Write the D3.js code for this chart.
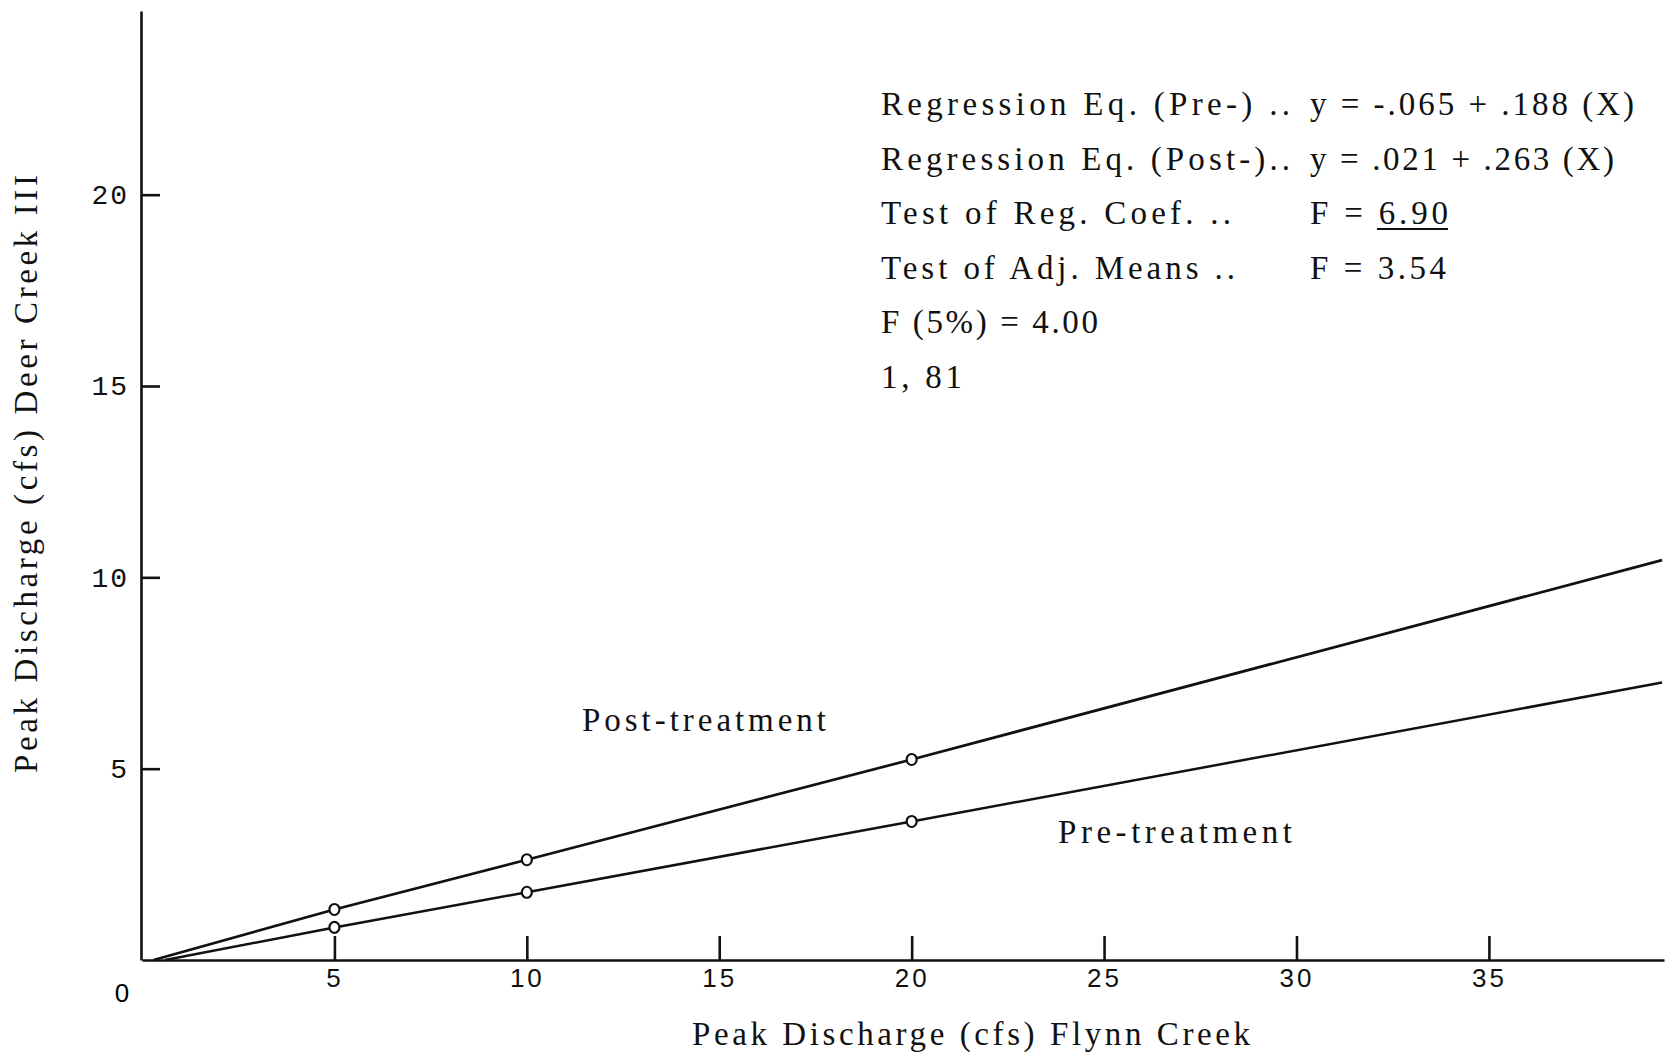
<!DOCTYPE html>
<html>
<head>
<meta charset="utf-8">
<script src="https://cdn.jsdelivr.net/npm/d3@7"></script>
<style>
  body { margin: 0; background: #fff; }
  svg { display: block; }
  .axis path, .axis line { stroke: #111; stroke-width: 2.6; }
  .axis text { font-family: "Liberation Mono", monospace; font-size: 28px; fill: #111; }
  .xaxis text { font-family: "Liberation Sans", sans-serif; font-size: 26px; }
  .note { font-family: "Liberation Serif", serif; font-size: 33px; fill: #111; }
</style>
</head>
<body>
<script>
// ---------------- data ----------------
const xTicks = [5, 10, 15, 20, 25, 30, 35];
const yTicks = [5, 10, 15, 20];

// regression lines (start at axis, through the plotted points, to the right edge)
const postX = [0.3, 5, 10, 20, 39.5];
const postY = [0, 1.32, 2.62, 5.24, 10.45];
const preX  = [0.6, 5, 10, 20, 39.5];
const preY  = [0, 0.85, 1.77, 3.62, 7.25];

// plotted points (open circles)
const pointX = [5, 10, 20];
const postPts = [1.32, 2.62, 5.24];
const prePts  = [0.85, 1.77, 3.62];

const notesLeft  = ["Regression Eq. (Pre-) ..", "Regression Eq. (Post-)..", "Test of Reg. Coef. ..",
                    "Test of Adj. Means ..", "F (5%) = 4.00", "1, 81"];
const notesRight = ["y = -.065 + .188 (X)", "y = .021 + .263 (X)", "F = 6.90", "F = 3.54", "", ""];

// ---------------- layout ----------------
const W = 1667, H = 1057;
const svg = d3.select("body").append("svg").attr("width", W).attr("height", H);

const x = d3.scaleLinear().domain([0, 39.55]).range([142, 1664]);
const y = d3.scaleLinear().domain([0, 24.8]).range([960, 11]);

// axes
svg.append("g").attr("class", "axis xaxis")
  .attr("transform", "translate(0,960)")
  .call(d3.axisBottom(x).tickValues(xTicks).tickSizeInner(-24).tickSizeOuter(0).tickPadding(9))
  .call(g => g.selectAll("text").attr("dy", "0.71em").attr("letter-spacing", 3));

svg.append("g").attr("class", "axis")
  .attr("transform", "translate(141,0)")
  .call(d3.axisLeft(y).tickValues(yTicks).tickSizeInner(-19).tickSizeOuter(0).tickPadding(12))
  .call(g => g.selectAll("text").attr("letter-spacing", 2));

svg.selectAll(".axis .domain").attr("fill", "none");

svg.append("text")
  .attr("x", 122).attr("y", 1002).attr("text-anchor", "middle")
  .style("font-family", "Liberation Sans, sans-serif").style("font-size", "26px")
  .text("0");

// regression lines
const line = d3.line().x(d => x(d[0])).y(d => y(d[1]));
[[postX, postY, 2.7], [preX, preY, 2.5]].forEach(([xs, ys, w]) => {
  svg.append("path")
    .datum(xs.map((v, i) => [v, ys[i]]))
    .attr("d", line)
    .attr("fill", "none").attr("stroke", "#111").attr("stroke-width", w);
});

// points
[postPts, prePts].forEach(vals => {
  svg.selectAll(null).data(pointX.map((v, i) => [v, vals[i]])).enter()
    .append("ellipse")
    .attr("cx", d => x(d[0])).attr("cy", d => y(d[1])).attr("rx", 5).attr("ry", 5.5)
    .attr("fill", "#fff").attr("stroke", "#111").attr("stroke-width", 2.2);
});

// line labels
svg.append("text").attr("class", "note").attr("x", 582).attr("y", 731)
  .attr("textLength", 244).attr("lengthAdjust", "spacing").text("Post-treatment");
svg.append("text").attr("class", "note").attr("x", 1058).attr("y", 843)
  .attr("textLength", 234).attr("lengthAdjust", "spacing").text("Pre-treatment");

// statistics block
const leftLens  = [409, 409, 350, 354, 217, 81];
const rightLens = [324, 304, 138, 136, 0, 0];
notesLeft.forEach((t, i) => {
  const by = 115 + i * 54.6;
  svg.append("text").attr("class", "note").attr("x", 881).attr("y", by)
    .attr("textLength", leftLens[i]).attr("lengthAdjust", "spacing").text(t);
  if (notesRight[i]) {
    svg.append("text").attr("class", "note").attr("x", 1310).attr("y", by)
      .attr("textLength", rightLens[i]).attr("lengthAdjust", "spacing").text(notesRight[i]);
  }
});
// underline under 6.90
svg.append("line").attr("x1", 1377).attr("x2", 1448).attr("y1", 229).attr("y2", 229)
  .attr("stroke", "#111").attr("stroke-width", 2);

// axis titles
svg.append("text").attr("class", "note").attr("x", 692).attr("y", 1045)
  .attr("textLength", 558).attr("lengthAdjust", "spacing")
  .text("Peak Discharge (cfs)  Flynn Creek");

svg.append("text").attr("class", "note")
  .attr("transform", "translate(37,773) rotate(-90)")
  .attr("textLength", 598).attr("lengthAdjust", "spacing")
  .text("Peak Discharge (cfs)  Deer Creek III");
</script>
</body>
</html>
